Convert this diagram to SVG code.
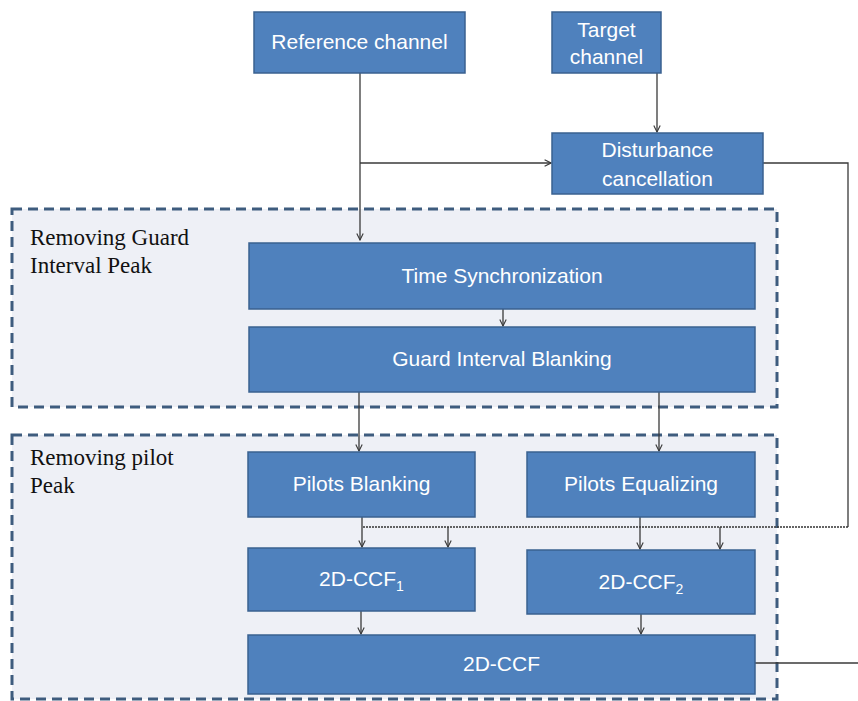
<svg xmlns="http://www.w3.org/2000/svg" width="858" height="701" viewBox="0 0 858 701">
  <style>
    .box { fill: #4F81BD; stroke: #3A6190; stroke-width: 1.5; }
    .btxt { fill: #FFFFFF; font-family: "Liberation Sans", "Open Sans", sans-serif; font-size: 21px; text-anchor: middle; }
    .group { fill: #EEF0F6; stroke: #3E5C7E; stroke-width: 3; stroke-dasharray: 10 6; }
    .gtxt { fill: #111111; font-family: "Liberation Serif", "Times New Roman", serif; font-size: 23px; }
    .wire { fill: none; stroke: #3A3A3A; stroke-width: 1.3; }
    .arrow { marker-end: url(#head); }
    .dotted { fill: none; stroke: #333333; stroke-width: 1.3; stroke-dasharray: 2 1; }
  </style>
  <defs>
    <marker id="head" viewBox="0 0 10 10" refX="9" refY="5" markerWidth="8" markerHeight="8" markerUnits="userSpaceOnUse" orient="auto">
      <path d="M1,1 L9,5 L1,9" fill="none" stroke="#3A3A3A" stroke-width="1.4"/>
    </marker>
  </defs>

  <rect width="858" height="701" fill="#FFFFFF"/>

  <!-- processing stages -->
  <g id="stage-guard">
    <rect class="group" x="12" y="209" width="765" height="198"/>
    <text class="gtxt" x="30" y="245">Removing Guard</text>
    <text class="gtxt" x="30" y="273">Interval Peak</text>
  </g>
  <g id="stage-pilot">
    <rect class="group" x="12" y="435" width="765" height="264"/>
    <text class="gtxt" x="30" y="465">Removing pilot</text>
    <text class="gtxt" x="30" y="493">Peak</text>
  </g>

  <!-- connectors -->
  <g id="connectors">
    <path class="wire arrow" d="M360,73 V240"/>
    <path class="wire arrow" d="M360,163 H551"/>
    <path class="wire arrow" d="M657,73 V132"/>
    <path class="wire" d="M763,163 H848 V527"/>
    <path class="dotted" d="M848,527 H362"/>
    <path class="wire arrow" d="M503,309 V326"/>
    <path class="wire arrow" d="M359,392 V451"/>
    <path class="wire arrow" d="M659,392 V451"/>
    <path class="wire arrow" d="M362,517 V547"/>
    <path class="wire arrow" d="M448,527 V547"/>
    <path class="wire arrow" d="M640,517 V549"/>
    <path class="wire arrow" d="M720,527 V549"/>
    <path class="wire arrow" d="M361,611 V634"/>
    <path class="wire arrow" d="M641,614 V634"/>
    <path class="wire" d="M755,663 H858"/>
  </g>

  <!-- blocks -->
  <g id="reference-channel">
    <rect class="box" x="254" y="12" width="211" height="61"/>
    <text class="btxt" x="359.5" y="49">Reference channel</text>
  </g>
  <g id="target-channel">
    <rect class="box" x="552" y="12" width="109" height="61"/>
    <text class="btxt" x="606.5" y="37">Target</text>
    <text class="btxt" x="606.5" y="64">channel</text>
  </g>
  <g id="disturbance-cancellation">
    <rect class="box" x="552" y="133" width="211" height="61"/>
    <text class="btxt" x="657.5" y="157">Disturbance</text>
    <text class="btxt" x="657.5" y="186">cancellation</text>
  </g>
  <g id="time-synchronization">
    <rect class="box" x="249" y="243" width="506" height="66"/>
    <text class="btxt" x="502" y="283">Time Synchronization</text>
  </g>
  <g id="guard-interval-blanking">
    <rect class="box" x="249" y="327" width="506" height="65"/>
    <text class="btxt" x="502" y="366">Guard Interval Blanking</text>
  </g>
  <g id="pilots-blanking">
    <rect class="box" x="248" y="452" width="227" height="65"/>
    <text class="btxt" x="361.5" y="491">Pilots Blanking</text>
  </g>
  <g id="pilots-equalizing">
    <rect class="box" x="527" y="452" width="228" height="65"/>
    <text class="btxt" x="641" y="491">Pilots Equalizing</text>
  </g>
  <g id="ccf-1">
    <rect class="box" x="248" y="548" width="227" height="63"/>
    <text class="btxt" x="361.5" y="586">2D-CCF<tspan font-size="14" dy="5">1</tspan></text>
  </g>
  <g id="ccf-2">
    <rect class="box" x="527" y="550" width="228" height="64"/>
    <text class="btxt" x="641" y="589">2D-CCF<tspan font-size="14" dy="5">2</tspan></text>
  </g>
  <g id="ccf">
    <rect class="box" x="248" y="635" width="507" height="59"/>
    <text class="btxt" x="501.5" y="671">2D-CCF</text>
  </g>
</svg>
